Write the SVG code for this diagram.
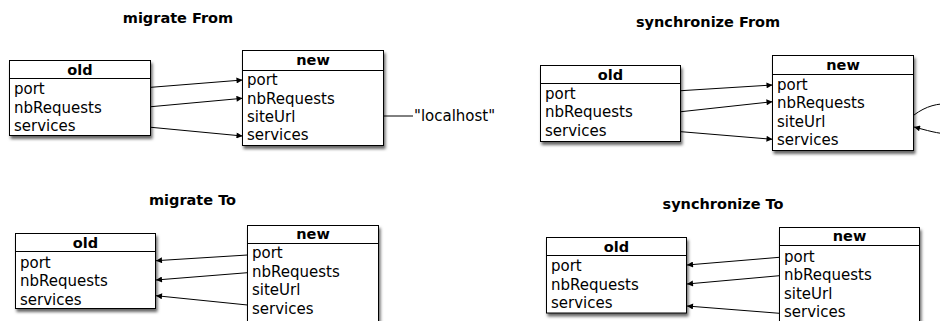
<svg xmlns="http://www.w3.org/2000/svg" width="940" height="321" viewBox="0 0 940 321">
<style>
.title{font-family:"DejaVu Sans",Verdana,sans-serif;font-weight:bold;font-size:14.5px;text-anchor:middle;fill:#000}
.hdr{font-family:"DejaVu Sans",Verdana,sans-serif;font-weight:bold;font-size:14.5px;text-anchor:middle;fill:#000}
.fld{font-family:"DejaVu Sans",Verdana,sans-serif;font-size:15px;fill:#000}
.box{fill:#fff;stroke:#000;stroke-width:1}
.sep{stroke:#000;stroke-width:1}
.conn{fill:none;stroke:#000;stroke-width:1}
</style>
<defs>
<filter id="sh" x="-10%" y="-10%" width="130%" height="140%">
<feDropShadow dx="1.5" dy="3" stdDeviation="1.6" flood-color="#000" flood-opacity="0.6"/>
</filter>
<marker id="ah" viewBox="0 0 10 10" refX="10" refY="5" markerWidth="9" markerHeight="6" markerUnits="userSpaceOnUse" orient="auto">
<path d="M0,0 L10,5 L0,10 Z" fill="#000"/>
</marker>
</defs>

<text class="title" x="178" y="23">migrate From</text>
<text class="title" x="708" y="27">synchronize From</text>
<text class="title" x="192.5" y="205">migrate To</text>
<text class="title" x="723" y="209">synchronize To</text>

<g id="mf-old">
<rect class="box" filter="url(#sh)" x="9.5" y="60.5" width="141" height="75"/>
<line class="sep" x1="9.5" y1="78.5" x2="150.5" y2="78.5"/>
<text class="hdr" x="80" y="75">old</text>
<text class="fld" x="14" y="94">port</text>
<text class="fld" x="14" y="112.5">nbRequests</text>
<text class="fld" x="14" y="131">services</text>
</g>
<g id="mf-new">
<rect class="box" filter="url(#sh)" x="242.5" y="50.5" width="141" height="95"/>
<line class="sep" x1="242.5" y1="70.5" x2="383.5" y2="70.5"/>
<text class="hdr" x="313" y="65">new</text>
<text class="fld" x="247" y="85">port</text>
<text class="fld" x="247" y="103.5">nbRequests</text>
<text class="fld" x="247" y="122">siteUrl</text>
<text class="fld" x="247" y="140">services</text>
</g>
<g id="mf-localhost">
<text class="fld" x="414" y="121">"localhost"</text>
</g>

<g id="sf-old">
<rect class="box" filter="url(#sh)" x="540.5" y="65.5" width="140" height="76"/>
<line class="sep" x1="540.5" y1="83.5" x2="680.5" y2="83.5"/>
<text class="hdr" x="610.5" y="79.5">old</text>
<text class="fld" x="545" y="98.5">port</text>
<text class="fld" x="545" y="117">nbRequests</text>
<text class="fld" x="545" y="135.5">services</text>
</g>
<g id="sf-new">
<rect class="box" filter="url(#sh)" x="772.5" y="55.5" width="141" height="95"/>
<line class="sep" x1="772.5" y1="74.5" x2="913.5" y2="74.5"/>
<text class="hdr" x="843" y="69.5">new</text>
<text class="fld" x="777" y="89.5">port</text>
<text class="fld" x="777" y="108">nbRequests</text>
<text class="fld" x="777" y="126.5">siteUrl</text>
<text class="fld" x="777" y="145">services</text>
</g>

<g id="mt-old">
<rect class="box" filter="url(#sh)" x="15.5" y="233.5" width="140" height="75"/>
<line class="sep" x1="15.5" y1="251.5" x2="155.5" y2="251.5"/>
<text class="hdr" x="85.5" y="248">old</text>
<text class="fld" x="20" y="267.5">port</text>
<text class="fld" x="20" y="286">nbRequests</text>
<text class="fld" x="20" y="304.5">services</text>
</g>
<g id="mt-new">
<rect class="box" filter="url(#sh)" x="247.5" y="225.5" width="131" height="110"/>
<line class="sep" x1="247.5" y1="243.5" x2="378.5" y2="243.5"/>
<text class="hdr" x="313" y="239">new</text>
<text class="fld" x="252" y="258">port</text>
<text class="fld" x="252" y="276.5">nbRequests</text>
<text class="fld" x="252" y="295">siteUrl</text>
<text class="fld" x="252" y="313.5">services</text>
</g>

<g id="st-old">
<rect class="box" filter="url(#sh)" x="546.5" y="237.5" width="140" height="75.5"/>
<line class="sep" x1="546.5" y1="255.5" x2="686.5" y2="255.5"/>
<text class="hdr" x="616.5" y="252">old</text>
<text class="fld" x="551" y="271">port</text>
<text class="fld" x="551" y="289.5">nbRequests</text>
<text class="fld" x="551" y="308">services</text>
</g>
<g id="st-new">
<rect class="box" filter="url(#sh)" x="779.5" y="227.5" width="140" height="110"/>
<line class="sep" x1="779.5" y1="245.5" x2="919.5" y2="245.5"/>
<text class="hdr" x="849.5" y="241">new</text>
<text class="fld" x="784" y="261.5">port</text>
<text class="fld" x="784" y="280">nbRequests</text>
<text class="fld" x="784" y="298.5">siteUrl</text>
<text class="fld" x="784" y="317">services</text>
</g>

<g id="connectors">
<line class="conn" x1="151" y1="87.3" x2="242.5" y2="80" marker-end="url(#ah)"/>
<line class="conn" x1="151" y1="106.7" x2="242.5" y2="98.3" marker-end="url(#ah)"/>
<line class="conn" x1="151" y1="127.3" x2="242.5" y2="136" marker-end="url(#ah)"/>
<line class="conn" x1="383.5" y1="116" x2="413" y2="116"/>

<line class="conn" x1="681" y1="90.7" x2="772.5" y2="85" marker-end="url(#ah)"/>
<line class="conn" x1="681" y1="111.7" x2="772.5" y2="101.7" marker-end="url(#ah)"/>
<line class="conn" x1="681" y1="131.7" x2="772.5" y2="139.3" marker-end="url(#ah)"/>
<path class="conn" d="M914,115 C926,106 938,103 950,104 C962,110 962,132 950,134 C938,134 926,130 914,127" marker-end="url(#ah)"/>

<line class="conn" x1="247.5" y1="255" x2="156" y2="260.7" marker-end="url(#ah)"/>
<line class="conn" x1="247.5" y1="272.7" x2="156" y2="280" marker-end="url(#ah)"/>
<line class="conn" x1="247.5" y1="305" x2="156" y2="295.7" marker-end="url(#ah)"/>

<line class="conn" x1="779.5" y1="257.3" x2="687" y2="265" marker-end="url(#ah)"/>
<line class="conn" x1="779.5" y1="275.7" x2="687" y2="284" marker-end="url(#ah)"/>
<line class="conn" x1="779.5" y1="313.3" x2="687" y2="306" marker-end="url(#ah)"/>
</g>
</svg>
